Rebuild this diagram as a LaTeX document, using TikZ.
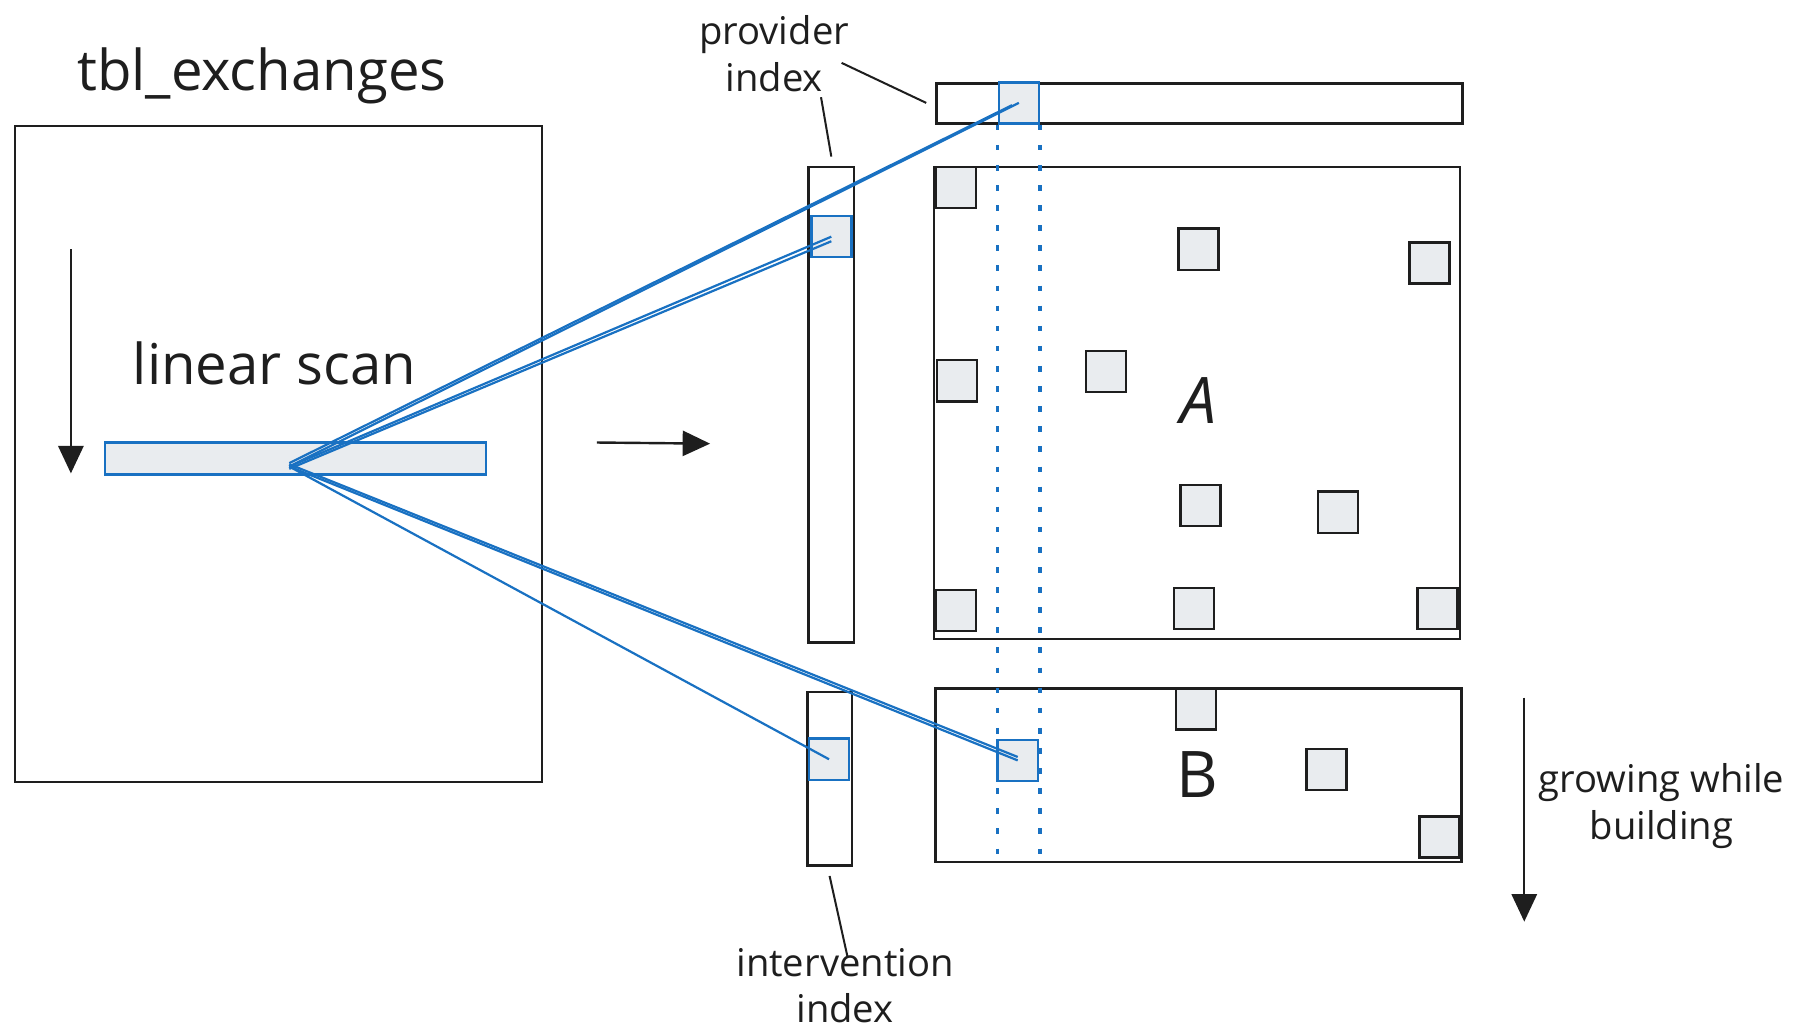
\documentclass[tikz,border=0pt]{standalone}
\usepackage{fontspec}
\setmainfont{Open Sans}
\usetikzlibrary{arrows.meta,fit,calc}

\definecolor{ink}{HTML}{1E1E1E}
\definecolor{scanblue}{HTML}{1971C2}
\definecolor{cellgray}{HTML}{E9ECEF}

\tikzset{
  sketch/.style={draw=ink, line width=0.6pt, inner sep=0pt},
  cell/.style={draw=ink, fill=cellgray, line width=0.6pt, inner sep=0pt,
    minimum width=0.35cm, minimum height=0.36cm},
  hit/.style={cell, draw=scanblue},
  ray/.style={draw=scanblue, line width=0.55pt},
  guide/.style={draw=scanblue, line width=0.8pt, dash pattern=on 1.4pt off 3.6pt},
  leader/.style={draw=ink, line width=0.5pt},
  hand/.style={font=\fontsize{14}{17}\selectfont, text=ink},
  note/.style={font=\fontsize{9.5}{11.6}\selectfont, text=ink, align=center},
  big/.style={font=\fontsize{16}{19}\selectfont, text=ink},
  flow/.style={draw=ink, line width=0.6pt, -{Triangle[length=0.24cm, width=0.22cm]}}
}

\begin{document}
\begin{tikzpicture}[x=0.01cm, y=-0.01cm]
  \useasboundingbox (0,0) rectangle (1568,901);

  % the table being scanned
  \node[hand] (title) at (229,66) {tbl\_exchanges};
  \node[sketch, fit={(13,110) (474,684)}] (tbl) {};
  \node[hand] (scanlabel) at (240,318) {linear scan};
  \node[sketch, draw=scanblue, fill=cellgray, fit={(92,387) (425,415)}] (row) {};
  \coordinate (scan) at (253,408);
  \coordinate (scantop) at (62,218);
  \coordinate (scanend) at (62,414);
  \draw[flow] (scantop) -- (scanend);

  \coordinate (stepfrom) at (522,387);
  \coordinate (stepto) at (621,388);
  \draw[flow] (stepfrom) -- (stepto);

  % the two index columns
  \node[sketch, fit={(707,146) (747,562)}] (pcol) {};
  \node[sketch, fit={(706,605) (745,757)}] (icol) {};
  \node[hit] (pcell) at (727,207) {};
  \node[hit] (icell) at (725,664) {};

  % the provider bar on top
  \node[sketch, fit={(819,73) (1279,108)}] (pbar) {};
  \node[hit] (pbcell) at (891,90) {};

  % matrix A and matrix B
  \node[sketch, fit={(817,146) (1277,559)}] (mata) {};
  \node[sketch, fit={(818,602) (1278,754)}] (matb) {};
  \node[big] (alabel) at (1048,350) {\itshape A};
  \node[big] (blabel) at (1047,677) {B};

  % filled entries
  \foreach \x/\y [count=\k] in {836/164, 1048/218, 1250/230, 837/333, 967/325,
      1050/442, 1170/448, 836/534, 1044/532, 1257/532} {
    \node[cell] (a\k) at (\x,\y) {};
  }
  \foreach \x/\y [count=\k] in {1046/620, 1160/673, 1259/732} {
    \node[cell] (b\k) at (\x,\y) {};
  }
  \node[hit] (bcell) at (890,665) {};

  % the column that is looked up
  \draw[guide] (pbcell.south west) -- (pbcell.south west |- matb.south);
  \draw[guide] (pbcell.south east) -- (pbcell.south east |- matb.south);

  % growing direction
  \coordinate (growtop) at (1333,610);
  \coordinate (growend) at (1333,806);
  \draw[flow] (growtop) -- (growend);
  \node[note] (growlabel) at (1453,705) {growing while\\building};

  % labels of the indexes
  \node[note] (plabel) at (677,47) {provider\\index};
  \coordinate (pl1) at (718,85);
  \coordinate (pl2) at (736,55);
  \coordinate (pl3) at (810,90);
  \draw[leader] (pl1) -- ([yshift=0.08cm]pcol.north);
  \draw[leader] (pl2) -- (pl3);

  \node[note] (ilabel) at (739,862) {intervention\\index};
  \coordinate (il1) at (741,836);
  \draw[leader] (il1) -- ([yshift=-0.08cm]icol.south);

  % rays from the scanned row
  \draw[ray] (scan) -- (pbcell.center);
  \draw[ray] ([yshift=0.03cm]scan) -- ([xshift=-0.06cm, yshift=-0.02cm]pbcell.center);
  \draw[ray] (scan) -- (pcell.center);
  \draw[ray] ([yshift=-0.02cm]scan) -- ([yshift=-0.04cm]pcell.center);
  \draw[ray] (scan) -- (icell.center);
  \draw[ray] (scan) -- (bcell.center);
  \draw[ray] ([yshift=0.02cm]scan) -- ([yshift=0.03cm]bcell.center);
\end{tikzpicture}
\end{document}
